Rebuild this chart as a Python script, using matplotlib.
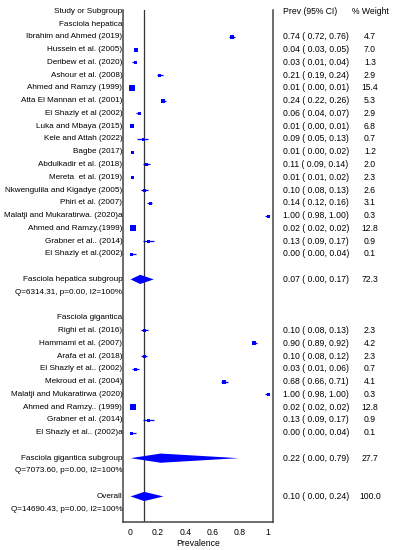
import matplotlib
matplotlib.use('Agg')
import matplotlib.pyplot as plt
import numpy as np

# ----------------------------------------------------------------------------------------------------------------------
#  DATA
# ----------------------------------------------------------------------------------------------------------------------
hep_names = ['Ibrahim and Ahmed (2019)', 'Hussein et al. (2005)', 'Deribew et al. (2020)',
             'Ashour et al. (2008)', 'Ahmed and Ramzy (1999)', 'Atta El Mannan et al. (2001)',
             'El Shazly et al (2002)', 'Luka and Mbaya (2015)', 'Kele and Attah (2022)',
             'Bagbe (2017)', 'Abdulkadir et al. (2018)', 'Mereta  et al. (2019)',
             'Nkwengulila and Kigadye (2005)', 'Phiri et al. (2007)',
             'Malatji and Mukaratirwa. (2020)a', 'Ahmed and Ramzy.(1999)',
             'Grabner et al.. (2014)', 'El Shazly et al.(2002)']
hep_prev = [0.74, 0.04, 0.03, 0.21, 0.01, 0.24, 0.06, 0.01, 0.09, 0.01, 0.11, 0.01, 0.10, 0.14, 1.00, 0.02, 0.13, 0.00]
hep_lo   = [0.72, 0.03, 0.01, 0.19, 0.00, 0.22, 0.04, 0.00, 0.05, 0.00, 0.09, 0.01, 0.08, 0.12, 0.98, 0.02, 0.09, 0.00]
hep_hi   = [0.76, 0.05, 0.04, 0.24, 0.01, 0.26, 0.07, 0.01, 0.13, 0.02, 0.14, 0.02, 0.13, 0.16, 1.00, 0.02, 0.17, 0.04]
hep_w    = [4.7, 7.0, 1.3, 2.9, 15.4, 5.3, 2.9, 6.8, 0.7, 1.2, 2.0, 2.3, 2.6, 3.1, 0.3, 12.8, 0.9, 0.1]

gig_names = ['Righi et al. (2016)', 'Hammami et al. (2007)', 'Arafa et al. (2018)',
             'El Shazly et al.. (2002)', 'Mekroud et al. (2004)', 'Malatji and Mukaratirwa (2020)',
             'Ahmed and Ramzy.. (1999)', 'Grabner et al. (2014)', 'El Shazly et al.. (2002)a']
gig_prev = [0.10, 0.90, 0.10, 0.03, 0.68, 1.00, 0.02, 0.13, 0.00]
gig_lo   = [0.08, 0.89, 0.08, 0.01, 0.66, 0.98, 0.02, 0.09, 0.00]
gig_hi   = [0.13, 0.92, 0.12, 0.06, 0.71, 1.00, 0.02, 0.17, 0.04]
gig_w    = [2.3, 4.2, 2.3, 0.7, 4.1, 0.3, 12.8, 0.9, 0.1]

# subgroup / overall summaries: label, prev, lo, hi, weight, heterogeneity text
summaries = [('Fasciola hepatica subgroup', 0.07, 0.00, 0.17, 72.3, 'Q=6314.31, p=0.00, I2=100%'),
             ('Fasciola gigantica subgroup', 0.22, 0.00, 0.79, 27.7, 'Q=7073.60, p=0.00, I2=100%'),
             ('Overall', 0.10, 0.00, 0.24, 100.0, 'Q=14690.43, p=0.00, I2=100%')]

x_ticks = [0, 0.2, 0.4, 0.6, 0.8, 1]
x_tick_labels = ['0', '0.2', '0.4', '0.6', '0.8', '1']

# ----------------------------------------------------------------------------------------------------------------------
#  PLOT
# ----------------------------------------------------------------------------------------------------------------------
blue = '#0000ff'
fs   = 5.9
fs_r = 6.2   # right-hand columns
plt.rcParams['font.family'] = ['Liberation Sans', 'DejaVu Sans']

fig = plt.figure(figsize=(3.94, 5.50), dpi=100)
ax  = fig.add_axes([123/394, 1 - 522/550, 150/394, 512/550])
ax.set_xlim(-0.055, 1.04)
ax.set_ylim(40, -0.1)

x_left = -0.06

def row_text(y, left, prev=None, weight=None):
    ax.text(x_left, y, left, ha='right', va='center', fontsize=fs)
    if prev is not None:
        yf = ax.transData.transform((0, y))[1] / fig.bbox.height
        fig.text(283/394, yf, prev, ha='left', va='center', fontsize=fs_r)
        fig.text(370/394, yf, weight, ha='center', va='center', fontsize=fs_r)

def fmt(p, lo, hi):
    return '%.2f ( %.2f, %.2f)' % (p, lo, hi)

def draw_study(y, p, lo, hi, w):
    ax.plot([lo, hi], [y, y], color=blue, linewidth=0.9, solid_capstyle='butt')
    side_px = max(3.0, 1.5*np.sqrt(w))
    ax.plot(p, y, marker='s', color=blue, markersize=side_px*0.72, markeredgewidth=0)

def draw_diamond(y, p, lo, hi):
    h = 0.36
    ax.fill([lo, p, hi, p], [y, y - h, y, y + h], color=blue, linewidth=0)

# header
row_text(0, 'Study or Subgroup')
yf = ax.transData.transform((0, 0))[1] / fig.bbox.height
fig.text(283/394, yf, 'Prev (95% CI)', ha='left', va='center', fontsize=fs_r)
fig.text(370/394, yf, '% Weight', ha='center', va='center', fontsize=fs_r)

# Fasciola hepatica
row_text(1, 'Fasciola hepatica')
for i in range(len(hep_names)):
    y = 2 + i
    draw_study(y, hep_prev[i], hep_lo[i], hep_hi[i], hep_w[i])
    row_text(y, hep_names[i], fmt(hep_prev[i], hep_lo[i], hep_hi[i]), '%.1f' % hep_w[i])

# Fasciola gigantica
row_text(24, 'Fasciola gigantica')
for i in range(len(gig_names)):
    y = 25 + i
    draw_study(y, gig_prev[i], gig_lo[i], gig_hi[i], gig_w[i])
    row_text(y, gig_names[i], fmt(gig_prev[i], gig_lo[i], gig_hi[i]), '%.1f' % gig_w[i])

# summaries
for (label, p, lo, hi, w, q), y in zip(summaries, [21, 35, 38]):
    draw_diamond(y, p, lo, hi)
    row_text(y, label, fmt(p, lo, hi), '%.1f' % w)
    row_text(y + 1, q)

# reference line at overall estimate
ax.axvline(summaries[2][1], color='#333333', linewidth=0.9, zorder=0)

for side in ['left', 'right', 'bottom']:
    ax.spines[side].set_color('#444444')
    ax.spines[side].set_linewidth(1.1)
ax.spines['top'].set_visible(False)
ax.set_yticks([])
ax.set_xticks(x_ticks)
ax.set_xticklabels(x_tick_labels, fontsize=fs_r)
ax.tick_params(axis='x', length=0, pad=4)
ax.set_xlabel('Prevalence', fontsize=fs_r, labelpad=2)

fig.savefig('out.png', dpi=100)
